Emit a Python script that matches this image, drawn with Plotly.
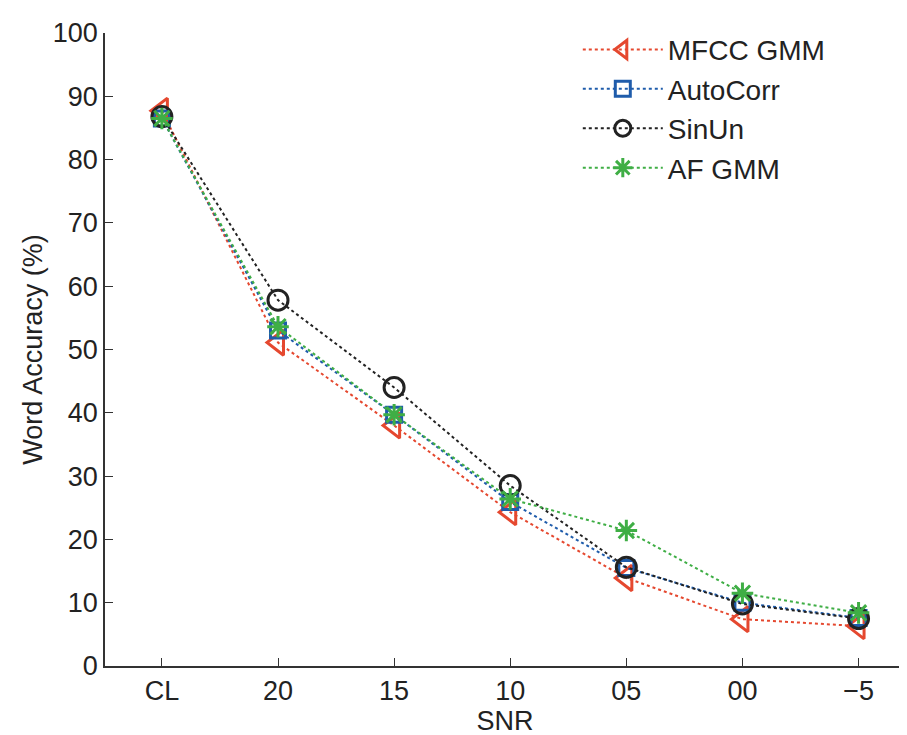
import plotly.graph_objects as go

categories = ["CL", "20", "15", "10", "05", "00", "\u22125"]
mfcc_gmm = [87.7, 51.1, 38.0, 24.3, 13.9, 7.4, 6.3]
autocorr = [86.5, 53.0, 39.7, 25.9, 15.5, 10.0, 7.6]
sinun = [86.8, 57.8, 44.0, 28.5, 15.6, 9.8, 7.5]
af_gmm = [86.5, 53.6, 39.7, 26.4, 21.4, 11.5, 8.4]

xs = list(range(len(categories)))

series = [
    ("MFCC GMM", mfcc_gmm, "#e5482f", "triangle-left-open", 22),
    ("AutoCorr", autocorr, "#1f5cab", "square-open", 15),
    ("SinUn", sinun, "#222222", "circle-open", 20),
    ("AF GMM", af_gmm, "#3fae45", "asterisk-open", 18),
]

fig = go.Figure()
for name, vals, color, sym, size in series:
    fig.add_trace(go.Scatter(
        x=xs, y=vals, name=name, mode="lines+markers",
        line=dict(color=color, width=2, dash="dot"),
        marker=dict(symbol=sym, size=size, color=color, line=dict(width=3, color=color)),
    ))

font = "Liberation Sans, Arial, sans-serif"
fig.update_layout(
    width=907, height=735,
    margin=dict(l=97, r=10, t=15, b=77),
    paper_bgcolor="white", plot_bgcolor="white",
    font=dict(family=font, color="#222222", size=27),
    showlegend=True,
    legend=dict(x=0.591, y=1.013, xanchor="left", yanchor="top",
                bgcolor="rgba(0,0,0,0)", font=dict(size=28), itemwidth=80,
                tracegroupgap=0),
    xaxis=dict(
        tickmode="array", tickvals=xs, ticktext=categories,
        range=[-0.49, 6.4], showgrid=False, zeroline=False,
        showline=True, linecolor="#333333", linewidth=1.5,
        ticks="inside", ticklen=8, tickcolor="#333333",
        tickfont=dict(size=27),
        title=dict(text="SNR", font=dict(size=27), standoff=0),
    ),
    yaxis=dict(
        range=[0, 100], dtick=10, showgrid=False, zeroline=False,
        showline=True, linecolor="#333333", linewidth=1.5,
        ticks="inside", ticklen=8, tickcolor="#333333",
        tickfont=dict(size=27),
        title=dict(text="Word Accuracy (%)", font=dict(size=27), standoff=2),
    ),
)

fig.write_html("out.html")
